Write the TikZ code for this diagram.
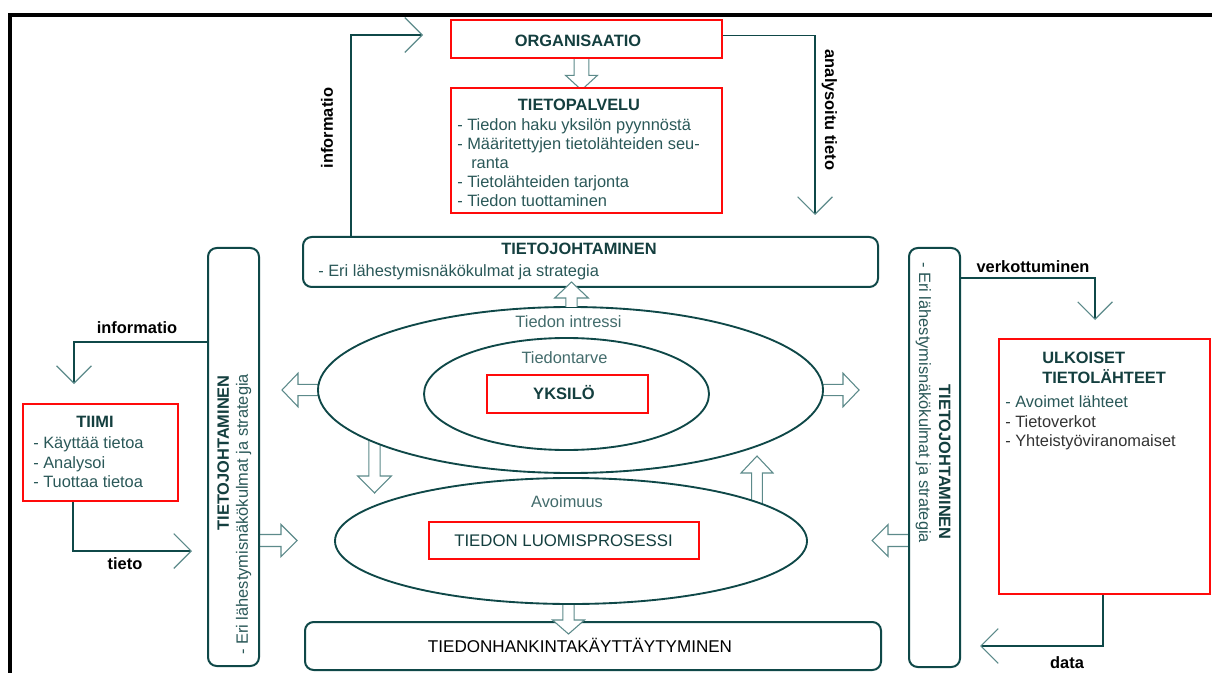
\documentclass[tikz,border=0pt]{standalone}
\usepackage{fontspec}
\setmainfont{Liberation Sans}
\usetikzlibrary{arrows.meta,shapes.geometric,calc,fit}
\pgfdeclarelayer{under}
\pgfsetlayers{under,main}

\definecolor{lineteal}{HTML}{0F4848}
\definecolor{titleteal}{HTML}{143F3F}
\definecolor{bodyteal}{HTML}{2A5858}
\definecolor{softteal}{HTML}{436C6C}
\definecolor{tipteal}{HTML}{5C8A8A}
\definecolor{boxred}{HTML}{FF0A0A}

% hollow block arrow: #1 start, #2 tip, #3 shaft half width, #4 head half width, #5 head length
\newcommand\hollowarrow[5]{%
  \coordinate (hb) at ($(#2)!#5!(#1)$);
  \filldraw[blockarrow] ($(#1)!#3!90:(#2)$) -- ($(hb)!#3!90:(#2)$) -- ($(hb)!#4!90:(#2)$) -- (#2)
    -- ($(hb)!#4!-90:(#2)$) -- ($(hb)!#3!-90:(#2)$) -- ($(#1)!#3!-90:(#2)$);%
}

\begin{document}
\begin{tikzpicture}[x=0.75pt,y=-0.75pt,
  font=\fontsize{12.3pt}{14.5pt}\selectfont,
  redbox/.style={draw=boxred, line width=1.5pt, inner sep=0pt, fill=white},
  tealbox/.style={draw=lineteal, line width=1.5pt, rounded corners=6.5pt, inner sep=0pt, fill=white},
  oval/.style={ellipse, draw=lineteal, line width=1.4pt, fill=white, inner sep=0pt},
  txt/.style={inner sep=0pt, text height=8.8pt, text depth=0pt, text=bodyteal},
  ttl/.style={txt, font=\fontsize{12.3pt}{14.5pt}\selectfont\bfseries, text=titleteal},
  soft/.style={txt, text=softteal},
  lab/.style={txt, font=\fontsize{12.3pt}{14.5pt}\selectfont\bfseries, text=black},
  conn/.style={draw=lineteal, line width=0.9pt, -{Straight Barb[length=13pt, width=26pt, color=tipteal]}},
  blockarrow/.style={draw=tipteal, fill=white, line width=0.8pt, line join=miter}]

\useasboundingbox (0,0) rectangle (1212,673);

% page frame
\draw[line width=3pt, line join=miter] (10,673) -- (10,15) -- (1212,15);

% boxes
\node[redbox, fit={(451,20) (722,58)}] (org) {};
\node[redbox, fit={(451,88) (722,213)}] (tp) {};
\node[tealbox, fit={(303,237) (878,287)}] (tjtop) {};
\node[tealbox, fit={(208,248) (259,666)}] (tjleft) {};
\node[tealbox, fit={(909,248) (960,667)}] (tjright) {};
\node[tealbox, fit={(305,622) (881,670)}] (hank) {};
\node[redbox, fit={(23,404) (178,501)}] (tiimi) {};
\node[redbox, fit={(999,339) (1210,594)}] (ulk) {};

% ellipses
\node[oval, minimum width=378.75pt, minimum height=124.5pt] (outer) at (570.5,390) {};
\node[oval, minimum width=213.75pt, minimum height=84pt] (inner) at (566.5,394) {};
\node[oval, minimum width=354pt, minimum height=94.5pt] (luom) at (571,541) {};
\node[redbox, fit={(487,375) (648,413)}] (yks) {};
\node[redbox, fit={(429,522) (699,559)}] (luombox) {};

% texts inside the boxes
\node[ttl] (orgT) at (578,41) {ORGANISAATIO};
\node[ttl] (tpT) at (579,105) {TIETOPALVELU};
\node[txt, anchor=west] (tp1) at (457,125) {- Tiedon haku yksilön pyynnöstä};
\node[txt, anchor=west] (tp2) at (457,144) {- Määritettyjen tietolähteiden seu-};
\node[txt, anchor=west] (tp3) at (471,163) {ranta};
\node[txt, anchor=west] (tp4) at (457,182) {- Tietolähteiden tarjonta};
\node[txt, anchor=west] (tp5) at (457,201) {- Tiedon tuottaminen};

\node[ttl] (tjtopT) at (579,249) {TIETOJOHTAMINEN};
\node[txt, anchor=west] (tjtopS) at (318,271) {- Eri lähestymisnäkökulmat ja strategia};

\node[ttl, rotate=90, anchor=east] (tjleftT) at (223,375) {TIETOJOHTAMINEN};
\node[txt, rotate=90, anchor=west] (tjleftS) at (242,655) {- Eri lähestymisnäkökulmat ja strategia};
\node[ttl, rotate=-90, anchor=east] (tjrightT) at (945,540) {TIETOJOHTAMINEN};
\node[txt, rotate=-90, anchor=west] (tjrightS) at (925,262) {- Eri lähestymisnäkökulmat ja strategia};

\node[soft] (intressi) at (568.5,322) {Tiedon intressi};
\node[soft] (tarve) at (564.5,358) {Tiedontarve};
\node[ttl, font=\fontsize{12.4pt}{14.5pt}\selectfont\bfseries] (yksT) at (564,394) {YKSILÖ};
\node[ttl, font=\fontsize{12.6pt}{14.5pt}\selectfont] (luomT) at (563.5,541) {TIEDON LUOMISPROSESSI};
\node[soft] (avoimuus) at (567,502) {Avoimuus};
\node[txt, text=black, font=\fontsize{12.8pt}{15pt}\selectfont] (hankT) at (580,647) {TIEDONHANKINTAKÄYTTÄYTYMINEN};

\node[ttl] (tiimiT) at (95,422) {TIIMI};
\node[txt, anchor=west] (ti1) at (33,443) {- Käyttää tietoa};
\node[txt, anchor=west] (ti2) at (33,463) {- Analysoi};
\node[txt, anchor=west] (ti3) at (33,482) {- Tuottaa tietoa};

\node[ttl, anchor=west] (ulkT1) at (1042,358) {ULKOISET};
\node[ttl, anchor=west] (ulkT2) at (1042,378) {TIETOLÄHTEET};
\node[txt, anchor=west] (ul1) at (1005,402) {- Avoimet lähteet};
\node[txt, anchor=west, text=black!80] (ul2) at (1005,422) {- Tietoverkot};
\node[txt, anchor=west, text=black!80] (ul3) at (1005,441) {- Yhteistyöviranomaiset};

% flow connectors
\coordinate (infoTip) at (423,35);
\draw[conn] ($(tjtop.north west)+(49,0)$) |- (infoTip);
\coordinate (analTip) at (815,215);
\draw[conn] ($(org.north east)!0.42!(org.south east)$) -| (analTip);
\coordinate (infoLTip) at (74,384);
\draw[conn] ($(tjleft.north west)+(0,95)$) -| (infoLTip);
\coordinate (tietoTip) at (192,551);
\draw[conn] ($(tiimi.south west)+(51,0)$) |- (tietoTip);
\coordinate (verkTip) at (1095,320);
\draw[conn] ($(tjright.north east)+(0,31)$) -| (verkTip);
\coordinate (dataTip) at (980,646);
\draw[conn] ($(ulk.south west)+(105,0)$) |- (dataTip);

% connector labels
\node[lab, rotate=90] (infoLab) at (327,128) {informatio};
\node[lab, rotate=-90] (analLab) at (831,110) {analysoitu tieto};
\node[lab] (infoLLab) at (137,328) {informatio};
\node[lab] (tietoLab) at (125,564) {tieto};
\node[lab] (verkLab) at (1033,267) {verkottuminen};
\node[lab] (dataLab) at (1067,663) {data};

% hollow arrows whose shafts run under the shapes
\begin{pgfonlayer}{under}
  \coordinate (a1s) at (581.5,55);  \coordinate (a1t) at (581.5,90);
  \hollowarrow{a1s}{a1t}{5.5pt}{12pt}{11pt}
  \coordinate (a3s) at (321,390);   \coordinate (a3t) at (282,390);
  \hollowarrow{a3s}{a3t}{4.2pt}{12.6pt}{12pt}
  \coordinate (a4s) at (820,390);   \coordinate (a4t) at (859,390);
  \hollowarrow{a4s}{a4t}{4.2pt}{12.6pt}{12pt}
  \coordinate (a5s) at (374.5,436); \coordinate (a5t) at (374.5,493);
  \hollowarrow{a5s}{a5t}{4.2pt}{12.6pt}{12.75pt}
  \coordinate (a6s) at (757,507);   \coordinate (a6t) at (757,456);
  \hollowarrow{a6s}{a6t}{4pt}{12pt}{12.75pt}
  \coordinate (a7s) at (256,540.5); \coordinate (a7t) at (297,540.5);
  \hollowarrow{a7s}{a7t}{4.5pt}{12pt}{12pt}
  \coordinate (a8s) at (912,540.5); \coordinate (a8t) at (872,540.5);
  \hollowarrow{a8s}{a8t}{4.5pt}{12pt}{12pt}
\end{pgfonlayer}

% hollow arrows drawn over the box edges
\coordinate (a2s) at (571.5,307); \coordinate (a2t) at (571.5,282);
\hollowarrow{a2s}{a2t}{4.2pt}{12.6pt}{12pt}
\coordinate (a9s) at (568.5,605); \coordinate (a9t) at (568.5,634);
\hollowarrow{a9s}{a9t}{4.2pt}{12pt}{10.5pt}

\end{tikzpicture}
\end{document}
